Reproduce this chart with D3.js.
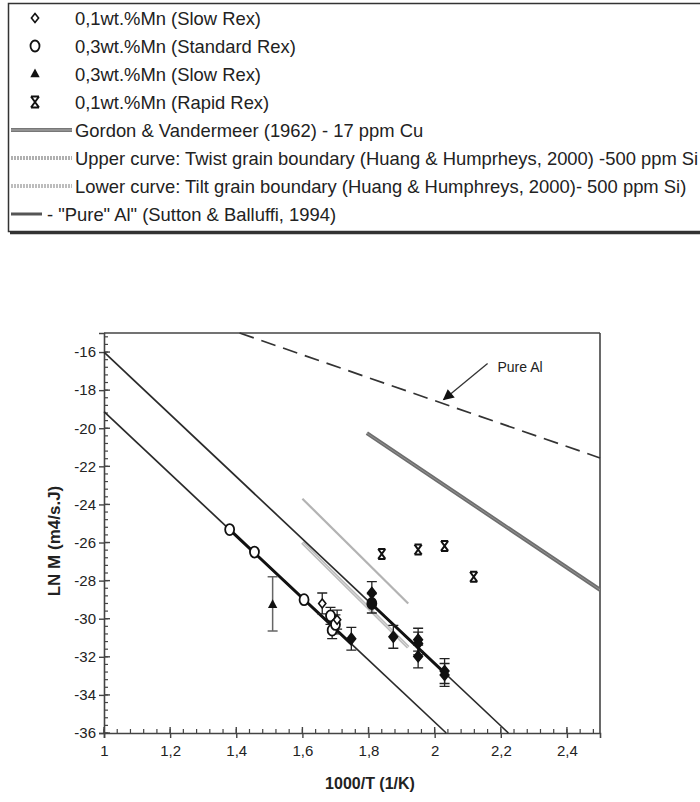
<!DOCTYPE html>
<html><head><meta charset="utf-8">
<script src="https://cdn.jsdelivr.net/npm/d3@7/dist/d3.min.js"></script>
<style>
body{margin:0;background:#fff}
svg{display:block}
text{font-family:"Liberation Sans",Arial,Helvetica,sans-serif;fill:#222}
</style>
</head><body>
<svg id="chart" width="700" height="802"></svg>
<script>
// ---------- data ----------
const xDomain = [1, 2.5];
const yDomain = [-36, -15];
const xTicks = [1, 1.2, 1.4, 1.6, 1.8, 2, 2.2, 2.4];
const yTicks = [-36, -34, -32, -30, -28, -26, -24, -22, -20, -18, -16];

// 0,1wt.%Mn (Slow Rex) – open diamonds
const slowRex01 = [
  {x: 1.66, y: -29.2, e: 0.55},
  {x: 1.705, y: -30.05, e: 0.5}
];
// 0,1wt.%Mn (Slow Rex) – dark (filled) diamonds at lower temperature
const slowRex01Dark = [
  {x: 1.748, y: -31.05, e: 0.6},
  {x: 1.81, y: -28.65, e: 0.6},
  {x: 1.875, y: -30.95, e: 0.6},
  {x: 1.95, y: -31.1, e: 0.6},
  {x: 1.95, y: -31.3, e: 0.6},
  {x: 1.95, y: -31.98, e: 0.6},
  {x: 2.03, y: -32.75, e: 0.65},
  {x: 2.03, y: -32.95, e: 0.6}
];
// 0,3wt.%Mn (Standard Rex) – open circles
const standardRex03 = [
  {x: 1.38, y: -25.32, e: 0},
  {x: 1.455, y: -26.5, e: 0},
  {x: 1.605, y: -29.0, e: 0},
  {x: 1.685, y: -29.85, e: 0.45},
  {x: 1.69, y: -30.6, e: 0.45},
  {x: 1.70, y: -30.3, e: 0.5}
];
const standardRex03Dark = [
  {x: 1.81, y: -29.2, e: 0.5}
];
// 0,3wt.%Mn (Slow Rex) – filled triangle with asymmetric error bar
const slowRex03 = [
  {x: 1.51, y: -29.27, lo: -30.65, hi: -27.8}
];
// 0,1wt.%Mn (Rapid Rex) – crosses
const rapidRex01 = [
  {x: 1.84, y: -26.6},
  {x: 1.95, y: -26.37},
  {x: 2.03, y: -26.18},
  {x: 2.118, y: -27.8}
];

// straight lines (end points in data units)
const fitUpper = [[1, -16], [2.223, -36]];
const fitLower = [[1, -19.13], [2.035, -36]];
const fitUpperBold = [[1.81, -29.24], [2.03, -32.84]];
const fitLowerBold = [[1.38, -25.32], [1.75, -31.36]];
const gordon = [[1.795, -20.26], [2.5, -28.48]];
const twist = [[1.6, -23.7], [1.92, -29.2]];
const tilt = [[1.6, -26.0], [1.92, -31.5]];
const pureAl = [[1.41, -15], [2.5, -21.56]];
const pureArrow = [[2.16, -16.6], [2.027, -18.5]];
const pureLabel = {x: 2.19, y: -16.8, text: "Pure Al"};

const legendTypes = ["diamond", "circle", "triangle", "cross", "gordon", "twist", "tilt", "pure"];
const legendLabels = [
  "0,1wt.%Mn (Slow Rex)",
  "0,3wt.%Mn (Standard Rex)",
  "0,3wt.%Mn (Slow Rex)",
  "0,1wt.%Mn (Rapid Rex)",
  "Gordon & Vandermeer (1962) - 17 ppm Cu",
  "Upper curve: Twist grain boundary (Huang & Humprheys, 2000) -500 ppm Si",
  "Lower curve: Tilt grain boundary (Huang & Humphreys, 2000)- 500 ppm Si)",
  "- \"Pure\" Al\" (Sutton & Balluffi, 1994)"
];

// ---------- drawing ----------
const svg = d3.select("#chart");
const plot = {left: 104, right: 600, top: 333, bottom: 733};
const x = d3.scaleLinear().domain(xDomain).range([plot.left, plot.right]);
const y = d3.scaleLinear().domain(yDomain).range([plot.bottom, plot.top]);
const line = d3.line().x(d => x(d[0])).y(d => y(d[1]));

// legend box
const lg = svg.append("g");
lg.append("rect").attr("x", 8.5).attr("y", 3.5).attr("width", 720).attr("height", 228)
  .attr("fill", "#fff").attr("stroke", "#333").attr("stroke-width", 1.5);
lg.append("line").attr("x1", 10).attr("x2", 720).attr("y1", 233).attr("y2", 233)
  .attr("stroke", "#333").attr("stroke-width", 2.5);

function drawSymbol(g, type, cx, cy, s) {
  s = s || 1;
  if (type === "diamond" || type === "diamondDark") {
    const r = 4.5 * s;
    g.append("path").attr("d", `M${cx},${cy - r}L${cx + r * 0.8},${cy}L${cx},${cy + r}L${cx - r * 0.8},${cy}Z`)
      .attr("fill", type === "diamond" ? "#fff" : "#111").attr("stroke", "#111").attr("stroke-width", 1.6);
  } else if (type === "circle" || type === "circleDark") {
    g.append("ellipse").attr("cx", cx).attr("cy", cy).attr("rx", 4.5 * s).attr("ry", 5.5 * s)
      .attr("fill", type === "circle" ? "#fff" : "#111").attr("stroke", "#111").attr("stroke-width", 1.8);
  } else if (type === "triangle") {
    const r = 5.5 * s;
    g.append("path").attr("d", `M${cx},${cy - r}L${cx + r * 0.85},${cy + r * 0.6}L${cx - r * 0.85},${cy + r * 0.6}Z`)
      .attr("fill", "#111");
  } else if (type === "cross") {
    const w = 4 * s, h = 5.5 * s;
    g.append("path").attr("d", `M${cx - w},${cy - h}L${cx + w},${cy + h}M${cx + w},${cy - h}L${cx - w},${cy + h}M${cx - w},${cy - h}H${cx + w}M${cx - w},${cy + h}H${cx + w}`)
      .attr("fill", "none").attr("stroke", "#111").attr("stroke-width", 2);
  }
}

const rowY0 = 18, rowStep = 28;
legendTypes.forEach((type, i) => {
  const cy = rowY0 + i * rowStep;
  if (["diamond", "circle", "triangle", "cross"].includes(type)) {
    drawSymbol(lg, type, 35, cy, 1);
  } else if (type === "gordon") {
    lg.append("line").attr("x1", 11).attr("x2", 72).attr("y1", cy).attr("y2", cy)
      .attr("stroke", "#777").attr("stroke-width", 4);
    lg.append("line").attr("x1", 11).attr("x2", 72).attr("y1", cy).attr("y2", cy)
      .attr("stroke", "#bbb").attr("stroke-width", 0.8);
  } else if (type === "twist" || type === "tilt") {
    lg.append("line").attr("x1", 11).attr("x2", 72).attr("y1", cy).attr("y2", cy)
      .attr("stroke", type === "twist" ? "#b0b0b0" : "#bdbdbd").attr("stroke-width", 4)
      .attr("stroke-dasharray", "2,1");
  } else if (type === "pure") {
    lg.append("line").attr("x1", 11).attr("x2", 42).attr("y1", cy).attr("y2", cy)
      .attr("stroke", "#555").attr("stroke-width", 3);
  }
  lg.append("text").attr("x", type === "pure" ? 47 : 75).attr("y", cy).attr("dy", "0.36em")
    .attr("font-size", 18.4)
    .text(legendLabels[i]);
});

// plot frame (top / right)
const frame = svg.append("g").attr("stroke", "#444").attr("stroke-width", 1.6);
frame.append("line").attr("x1", plot.left).attr("x2", plot.right).attr("y1", plot.top).attr("y2", plot.top);
frame.append("line").attr("x1", plot.right).attr("x2", plot.right).attr("y1", plot.top).attr("y2", plot.bottom);

// axes
const fmt = d => String(d).replace(".", ",");
const yAxis = svg.append("g").attr("transform", `translate(${plot.left},0)`)
  .call(d3.axisLeft(y).tickValues(yTicks).tickSize(5).tickPadding(3).tickFormat(d => d));
const xAxis = svg.append("g").attr("transform", `translate(0,${plot.bottom})`)
  .call(d3.axisBottom(x).tickValues(xTicks).tickSize(5).tickPadding(7).tickFormat(fmt));
[yAxis, xAxis].forEach(a => {
  a.select(".domain").attr("stroke", "#444").attr("stroke-width", 1.6);
  a.selectAll(".tick line").attr("stroke", "#444").attr("stroke-width", 1.4);
  a.selectAll("text").attr("font-size", 15).attr("fill", "#222").attr("font-family", "Liberation Sans, Arial, sans-serif");
});
// inner part of major ticks + minor ticks
const yMinor = d3.range(-36, -15 + 1e-9, 0.4);
svg.append("g").selectAll("line").data(yMinor).join("line")
  .attr("x1", plot.left).attr("x2", plot.left + 4)
  .attr("y1", d => y(d)).attr("y2", d => y(d)).attr("stroke", "#444").attr("stroke-width", 1.2);
svg.append("g").selectAll("line").data(yTicks).join("line")
  .attr("x1", plot.left).attr("x2", plot.left + 6)
  .attr("y1", d => y(d)).attr("y2", d => y(d)).attr("stroke", "#444").attr("stroke-width", 1.4);
const xMinor = d3.range(1, 2.5 + 1e-9, 0.04);
svg.append("g").selectAll("line").data(xMinor).join("line")
  .attr("x1", d => x(d)).attr("x2", d => x(d))
  .attr("y1", plot.bottom).attr("y2", plot.bottom - 4).attr("stroke", "#444").attr("stroke-width", 1.2);
svg.append("g").selectAll("line").data(xTicks).join("line")
  .attr("x1", d => x(d)).attr("x2", d => x(d))
  .attr("y1", plot.bottom).attr("y2", plot.bottom - 6).attr("stroke", "#444").attr("stroke-width", 1.4);

// axis titles
svg.append("text").attr("transform", `translate(${(plot.left + plot.right) / 2 + 18},789) `)
  .attr("text-anchor", "middle").attr("font-size", 16).attr("font-weight", "bold").text("1000/T (1/K)");
svg.append("text").attr("transform", `translate(60,${(plot.top + plot.bottom) / 2 + 8}) rotate(-90)`)
  .attr("text-anchor", "middle").attr("font-size", 17).attr("font-weight", "bold").text("LN M (m4/s.J)");

// lines
const lines = svg.append("g").attr("fill", "none");
lines.append("path").attr("d", line(gordon)).attr("stroke", "#6e6e6e").attr("stroke-width", 4);
lines.append("path").attr("d", line(gordon)).attr("stroke", "#9a9a9a").attr("stroke-width", 0.8);
lines.append("path").attr("d", line(twist)).attr("stroke", "#b3b3b3").attr("stroke-width", 2.2);
lines.append("path").attr("d", line(tilt)).attr("stroke", "#bdbdbd").attr("stroke-width", 3.6);
lines.append("path").attr("d", line(tilt)).attr("stroke", "#e0e0e0").attr("stroke-width", 1);
lines.append("path").attr("d", line(pureAl)).attr("stroke", "#333").attr("stroke-width", 1.7).attr("stroke-dasharray", "15,8");
lines.append("path").attr("d", line(fitUpper)).attr("stroke", "#2a2a2a").attr("stroke-width", 1.7);
lines.append("path").attr("d", line(fitLower)).attr("stroke", "#2a2a2a").attr("stroke-width", 1.7);
lines.append("path").attr("d", line(fitUpperBold)).attr("stroke", "#111").attr("stroke-width", 3);
lines.append("path").attr("d", line(fitLowerBold)).attr("stroke", "#111").attr("stroke-width", 3);

// arrow + label
svg.append("defs").append("marker").attr("id", "ah").attr("viewBox", "0 0 10 10")
  .attr("refX", 9).attr("refY", 5).attr("markerWidth", 13).attr("markerHeight", 11)
  .attr("markerUnits", "userSpaceOnUse").attr("orient", "auto")
  .append("path").attr("d", "M0,0L10,5L0,10Z").attr("fill", "#111");
svg.append("path").attr("d", line(pureArrow)).attr("stroke", "#333").attr("stroke-width", 1.3)
  .attr("fill", "none").attr("marker-end", "url(#ah)");
svg.append("text").attr("x", x(pureLabel.x)).attr("y", y(pureLabel.y)).attr("dy", "0.35em")
  .attr("font-size", 14).text(pureLabel.text);

// error bars + markers
const pts = svg.append("g");
function errBar(d, lo, hi) {
  const cap = 5;
  pts.append("path").attr("d", `M${x(d.x)},${y(hi)}V${y(lo)}M${x(d.x) - cap},${y(hi)}H${x(d.x) + cap}M${x(d.x) - cap},${y(lo)}H${x(d.x) + cap}`)
    .attr("stroke", "#222").attr("stroke-width", 1.3).attr("fill", "none");
}
[...slowRex01, ...standardRex03, ...slowRex01Dark, ...standardRex03Dark].forEach(d => { if (d.e) errBar(d, d.y - d.e, d.y + d.e); });
slowRex03.forEach(d => { pts.append("path").attr("d", `M${x(d.x)},${y(d.hi)}V${y(d.lo)}M${x(d.x) - 5},${y(d.hi)}H${x(d.x) + 5}M${x(d.x) - 5},${y(d.lo)}H${x(d.x) + 5}`).attr("stroke", "#666").attr("stroke-width", 1.5); });
standardRex03.forEach(d => drawSymbol(pts, "circle", x(d.x), y(d.y), 1));
slowRex01.forEach(d => drawSymbol(pts, "diamond", x(d.x), y(d.y), 1));
slowRex01Dark.forEach(d => drawSymbol(pts, "diamondDark", x(d.x), y(d.y), 1.2));
standardRex03Dark.forEach(d => drawSymbol(pts, "circleDark", x(d.x), y(d.y), 1));
slowRex03.forEach(d => drawSymbol(pts, "triangle", x(d.x), y(d.y), 1));
rapidRex01.forEach(d => drawSymbol(pts, "cross", x(d.x), y(d.y), 0.9));
</script>
</body></html>
